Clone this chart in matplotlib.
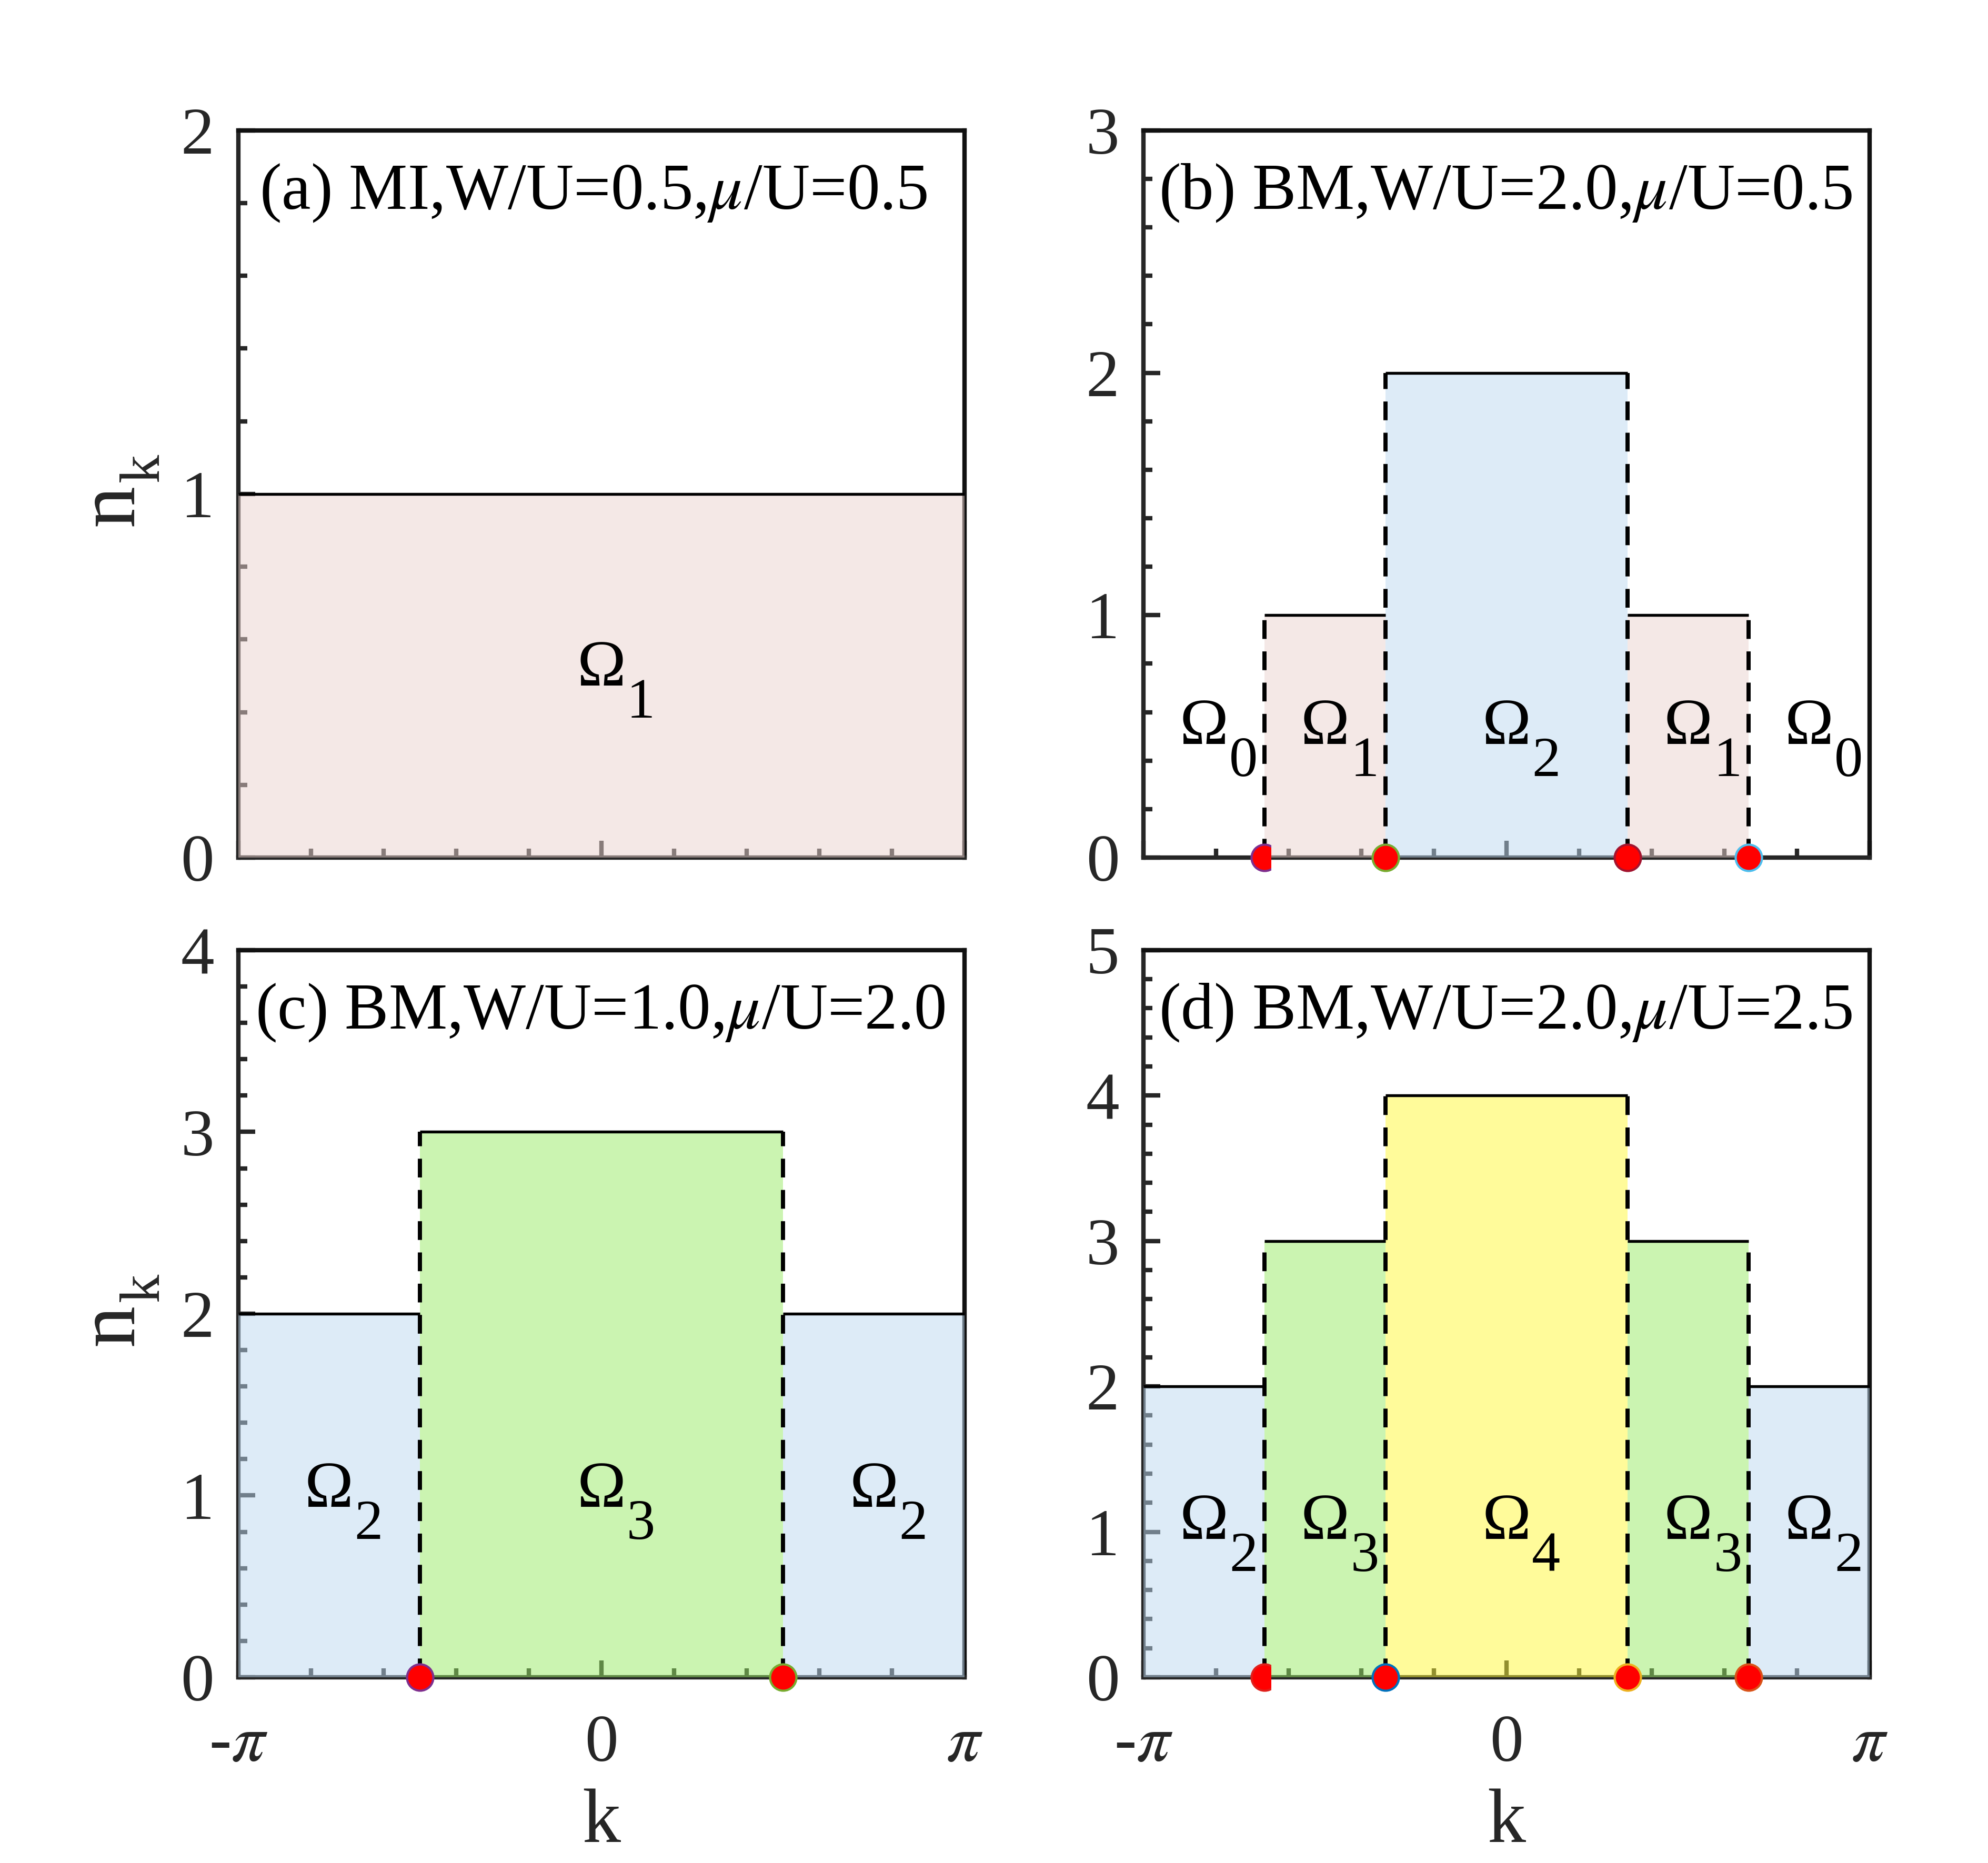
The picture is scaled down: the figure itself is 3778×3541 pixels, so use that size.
import numpy as np
import matplotlib
matplotlib.use('Agg')
import matplotlib.pyplot as plt
import matplotlib.transforms as mtrans
from matplotlib.ticker import MultipleLocator, FixedLocator
from matplotlib.patches import Rectangle

plt.rcParams['font.family'] = ['Liberation Serif', 'DejaVu Serif']
plt.rcParams['mathtext.fontset'] = 'stix'

PI = np.pi

# ---------------- data ----------------
panel_labels = ['(a) MI,W/U=0.5,$\\mu$/U=0.5',
                '(b) BM,W/U=2.0,$\\mu$/U=0.5',
                '(c) BM,W/U=1.0,$\\mu$/U=2.0',
                '(d) BM,W/U=2.0,$\\mu$/U=2.5']
# region edges in units of pi, and occupation n_k in each region
edges_a = [-1, 1]
levels_a = [1]
edges_b = [-1, -2/3, -1/3, 1/3, 2/3, 1]
levels_b = [0, 1, 2, 1, 0]
edges_c = [-1, -1/2, 1/2, 1]
levels_c = [2, 3, 2]
edges_d = [-1, -2/3, -1/3, 1/3, 2/3, 1]
levels_d = [2, 3, 4, 3, 2]
y_max = [2, 3, 4, 5]
# edge colours of the red boundary markers
marker_edge_a = []
marker_edge_b = ['#7E2F8E', '#77AC30', '#A2142F', '#4DBEEE']
marker_edge_c = ['#7E2F8E', '#77AC30']
marker_edge_d = ['#E0201B', '#0072BD', '#EDB120', '#D95319']
first_marker_cut = [False, True, False, True]
x_tick_labels = ['-$\\pi$', '0', '$\\pi$']

level_colors = {1: '#EBD3CF', 2: '#BDD9F1', 3: '#99EB65', 4: '#FFF937'}
fill_alpha = 0.5

# layout (figure fractions)
ax_w, ax_h = 0.3653, 0.3903
lefts = [0.1199, 0.5752, 0.1199, 0.5752]
bottoms = [0.5397, 0.5397, 0.0997, 0.0997]
label_x = [0.029, 0.021, 0.023, 0.021]
omega_y = [0.2366, 0.156, 0.2346, 0.19]

edges_all = [edges_a, edges_b, edges_c, edges_d]
levels_all = [levels_a, levels_b, levels_c, levels_d]
medges_all = [marker_edge_a, marker_edge_b, marker_edge_c, marker_edge_d]

fig = plt.figure(figsize=(3778 / 300, 3541 / 300), dpi=300)
spine_col = '#262626'

for i in range(4):
    ax = fig.add_axes([lefts[i], bottoms[i], ax_w, ax_h])
    edges = [e * PI for e in edges_all[i]]
    levels = levels_all[i]
    ax.set_xlim(-PI, PI)
    ax.set_ylim(0, y_max[i])

    # filled regions
    for j, lev in enumerate(levels):
        x0, x1 = edges[j], edges[j + 1]
        if lev > 0:
            ax.fill_between([x0, x1], 0, lev, color=level_colors[lev],
                            alpha=fill_alpha, lw=0, zorder=3)
            ax.plot([x0, x1], [lev, lev], color='k', lw=1.3, zorder=4,
                    solid_capstyle='butt')
    # dashed boundaries
    for j in range(1, len(edges) - 1):
        top = max(levels[j - 1], levels[j])
        ax.plot([edges[j], edges[j]], [0, top], color='k', lw=1.9,
                dashes=(4.5, 3.0), zorder=4)
    # markers
    for j, mc in enumerate(medges_all[i]):
        e = edges[j + 1]
        ln, = ax.plot([e], [0], 'o', ms=12, mfc='#FF0000', mec=mc, mew=1.0,
                      zorder=6, clip_on=False)
        if j == 0 and first_marker_cut[i]:
            ln.set_clip_on(True)
            ln.set_clip_path(Rectangle((-PI, -1), e + PI + 0.017 * PI, 2,
                                       transform=ax.transData))

    # region labels
    trans = mtrans.blended_transform_factory(ax.transData, ax.transAxes)
    for j, lev in enumerate(levels):
        xc = 0.5 * (edges[j] + edges[j + 1])
        ax.text(xc, omega_y[i], '\u03A9', transform=trans, fontsize=30,
                ha='center', va='baseline', zorder=7)
        ax.annotate(str(lev), xy=(xc, omega_y[i]), xycoords=trans,
                    xytext=(11.5, -14.6), textcoords='offset points',
                    fontsize=26, ha='left', va='baseline', zorder=7)

    # panel label
    ax.text(label_x[i], 0.892, panel_labels[i], transform=ax.transAxes,
            fontsize=30, ha='left', va='baseline', color='k', zorder=7)

    # ticks
    ax.xaxis.set_major_locator(FixedLocator([-PI, 0, PI]))
    ax.xaxis.set_minor_locator(FixedLocator([v * PI for v in np.arange(-0.8, 0.81, 0.2)]))
    ax.yaxis.set_major_locator(MultipleLocator(1))
    ax.yaxis.set_minor_locator(MultipleLocator(0.2))
    ax.tick_params(which='both', direction='in', top=False, right=False,
                   width=2, color=spine_col, labelsize=30.5, labelcolor=spine_col)
    ax.tick_params(which='major', length=7.7)
    ax.tick_params(which='minor', length=4)
    ax.tick_params(axis='y', pad=11)
    ax.tick_params(axis='x', pad=17)
    if i < 2:
        ax.tick_params(axis='x', labelbottom=False)
    else:
        ax.set_xticklabels(x_tick_labels)
        ax.set_xlabel('k', fontsize=35, labelpad=6, color=spine_col)
    if i % 2 == 0:
        # y label: n with a large, lowered subscript k
        ax.text(-0.145, 0.456, 'n', rotation=90, rotation_mode='anchor',
                ha='left', va='baseline', fontsize=38, color=spine_col,
                transform=ax.transAxes)
        ax.annotate('k', xy=(-0.145, 0.456), xycoords='axes fraction',
                    xytext=(11.5, 20), textcoords='offset points',
                    rotation=90, rotation_mode='anchor', ha='left',
                    va='baseline', fontsize=26, color=spine_col)
    for s in ['left', 'bottom']:
        ax.spines[s].set_color(spine_col)
        ax.spines[s].set_linewidth(2)
    for s in ['top', 'right']:
        ax.spines[s].set_color('#111111')
        ax.spines[s].set_linewidth(2)

fig.savefig('out.png', dpi=300)
